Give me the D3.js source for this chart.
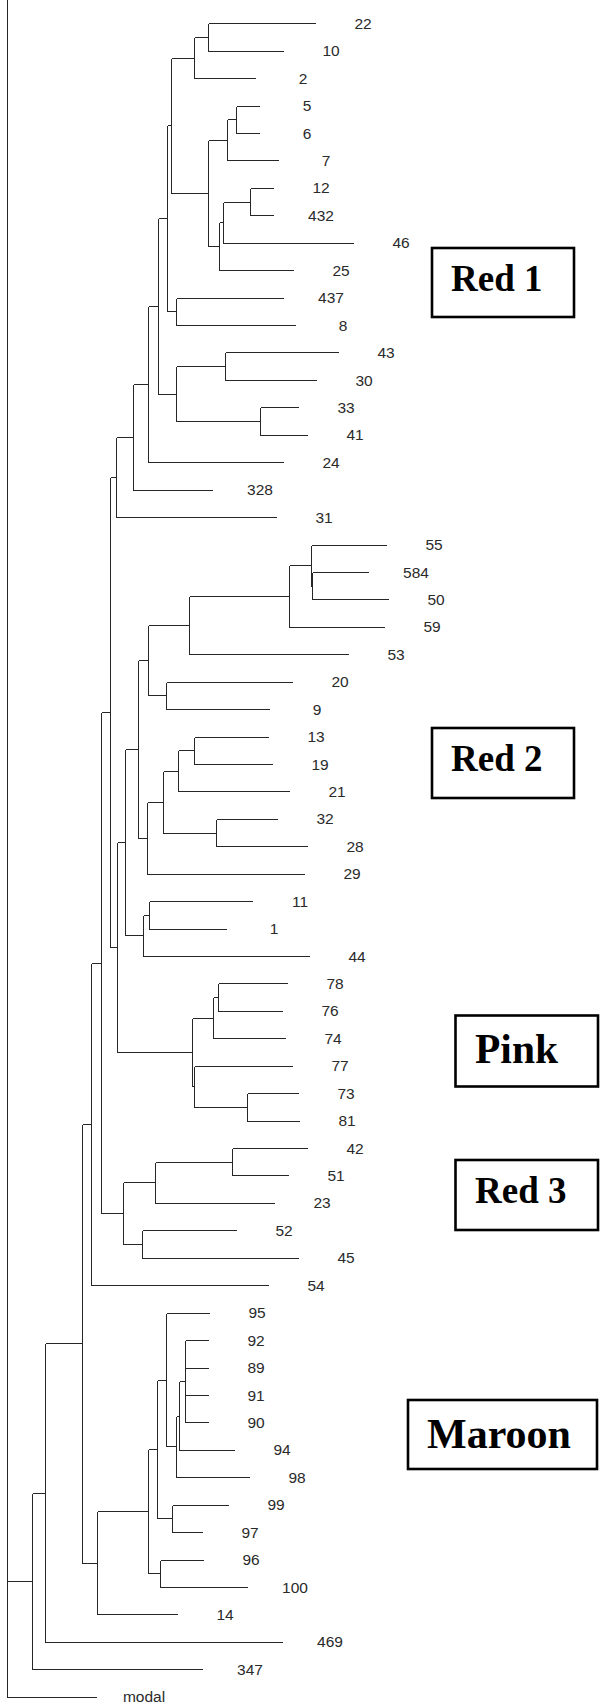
<!DOCTYPE html>
<html>
<head>
<meta charset="utf-8">
<script src="https://cdnjs.cloudflare.com/ajax/libs/d3/7.8.5/d3.min.js"></script>
<style>
    body { margin: 0; background: #fff; }
    svg { display: block; }
</style>
</head>
<body>
<svg width="600" height="1705"></svg>
<script>
(function () {

    // tree data, newick pieces with branch lengths
    var red1Inner = '(((22:.107,10:.075):.014,2:.061):.023,(((5:.023,6:.023):.009,7:.051):.019,(((12:.023,432:.023):.027,46:.130):.004,25:.074):.011):.037)';
    var red1Side = '((43:.113,30:.091):.049,(33:.038,41:.047):.084)';
    var red1 = '(((((' + red1Inner + ':.004,(437:.107,8:.119):.009):.009,' + red1Side + ':.018):.010,24:.135):.015,328:.079):.017,31:.160)';

    var red2Top = '((((55:.075,(584:.056,50:.076):.001):.022,59:.095):.100,53:.159):.041,(20:.126,9:.103):.018)';
    var red2Mid = '((((13:.074,19:.078):.016,21:.111):.015,(32:.061,28:.091):.053):.016,29:.157)';
    var red2Low = '((11:.103,1:.077):.006,44:.166)';
    var red2 = '((' + red2Top + ':.010,' + red2Mid + ':.009):.013,' + red2Low + ':.018)';

    var pink = '(((78:.069,76:.064):.005,74:.072):.021,(77:.098,(73:.051,81:.052):.053):.002)';
    var red3 = '(((42:.075,51:.056):.077,23:.119):.032,(52:.094,45:.156):.019)';
    var maroon = '((((95:.043,(((92:.023,89:.023,91:.023,90:.023):.006,94:.055):.003,98:.073):.010):.009,(99:.056,97:.030):.015):.009,(96:.043,100:.087):.012):.051,14:.080)';

    var newick = '((((((((' + red1 + ':.006,(' + red2 + ':.008,' + pink + ':.075):.007):.009,' + red3 + ':.022):.010,54:.177):.009,' +
        maroon + ':.015):.037,469:.237):.013,347:.170):.025,modal:.089);';

    var groupNames = ['Red 1', 'Red 2', 'Pink', 'Red 3', 'Maroon'];

    var svg = d3.select('svg'),
        width = +svg.attr('width'),
        height = +svg.attr('height');

    svg.append('rect')
        .attr('width', width)
        .attr('height', height)
        .attr('fill', '#fff');

    function parseNewick(s) {
        var i = 0;
        function node() {
            var n = { children: null, name: '', length: 0 };
            if (s[i] === '(') {
                i++;
                n.children = [];
                do { n.children.push(node()); } while (s[i++] === ',');
            }
            while (i < s.length && ':,();'.indexOf(s[i]) < 0) n.name += s[i++];
            if (s[i] === ':') {
                i++;
                var num = '';
                while (i < s.length && ',();'.indexOf(s[i]) < 0) num += s[i++];
                n.length = +num;
            }
            return n;
        }
        return node();
    }

    var root = d3.hierarchy(parseNewick(newick));
    root.eachBefore(function (d) {
        d.dist = (d.parent ? d.parent.dist : 0) + d.data.length;
    });

    var leaves = root.leaves();
    var y = d3.scalePoint()
        .domain(leaves.map(function (d) { return d.data.name; }))
        .range([23.3, 1696.7]);
    var x = d3.scaleLinear().domain([0, 0.4]).range([7, 407]);

    leaves.forEach(function (d) { d.y = y(d.data.name); });
    root.eachAfter(function (d) {
        if (d.children) d.y = (d.children[0].y + d.children[d.children.length - 1].y) / 2;
    });

    function px(v) { return Math.round(v) + 0.5; }

    var g = svg.append('g')
        .attr('fill', 'none')
        .attr('stroke', '#262626')
        .attr('stroke-width', 1)
        .attr('shape-rendering', 'crispEdges');

    // horizontal branches
    g.selectAll('path.h')
        .data(root.descendants().filter(function (d) { return d.parent; }))
        .enter().append('path')
        .attr('class', 'h')
        .attr('d', function (d) {
            return 'M' + px(x(d.parent.dist)) + ',' + px(d.y) + 'H' + px(x(d.dist));
        });

    // vertical connectors
    g.selectAll('path.v')
        .data(root.descendants().filter(function (d) { return d.children; }))
        .enter().append('path')
        .attr('class', 'v')
        .attr('d', function (d) {
            var top = d === root ? 0 : px(d.children[0].y);
            return 'M' + px(x(d.dist)) + ',' + top + 'V' + px(d.children[d.children.length - 1].y);
        });

    svg.append('g')
        .selectAll('text')
        .data(leaves)
        .enter().append('text')
        .attr('x', function (d) { return x(d.dist) + 48; })
        .attr('y', function (d) { return d.y; })
        .attr('dy', '0.36em')
        .attr('text-anchor', 'middle')
        .attr('font-family', 'Liberation Sans, Arial, sans-serif')
        .attr('font-size', 15.5)
        .attr('fill', '#2a2a2a')
        .text(function (d) { return d.data.name; });

    // group boxes
    var boxes = [
        { x: 432, y: 248, w: 142, h: 69, tx: 451, ty: 291, size: 37 },
        { x: 432, y: 728, w: 142, h: 70, tx: 451, ty: 771, size: 37 },
        { x: 455.5, y: 1015.5, w: 142.5, h: 71, tx: 475, ty: 1063, size: 41.5 },
        { x: 455.5, y: 1160, w: 142.5, h: 70, tx: 475, ty: 1203, size: 37 },
        { x: 408, y: 1400, w: 189, h: 69, tx: 427, ty: 1448, size: 42 }
    ];

    var box = svg.append('g')
        .selectAll('g')
        .data(groupNames)
        .enter().append('g');

    box.append('rect')
        .attr('x', function (d, i) { return boxes[i].x; })
        .attr('y', function (d, i) { return boxes[i].y; })
        .attr('width', function (d, i) { return boxes[i].w; })
        .attr('height', function (d, i) { return boxes[i].h; })
        .attr('fill', '#fff')
        .attr('stroke', '#000')
        .attr('stroke-width', 2.6);

    box.append('text')
        .attr('x', function (d, i) { return boxes[i].tx; })
        .attr('y', function (d, i) { return boxes[i].ty; })
        .attr('font-family', 'Liberation Serif, Times New Roman, serif')
        .attr('font-weight', 'bold')
        .attr('font-size', function (d, i) { return boxes[i].size; })
        .attr('fill', '#000')
        .text(function (d) { return d; });
})();
</script>
</body>
</html>
